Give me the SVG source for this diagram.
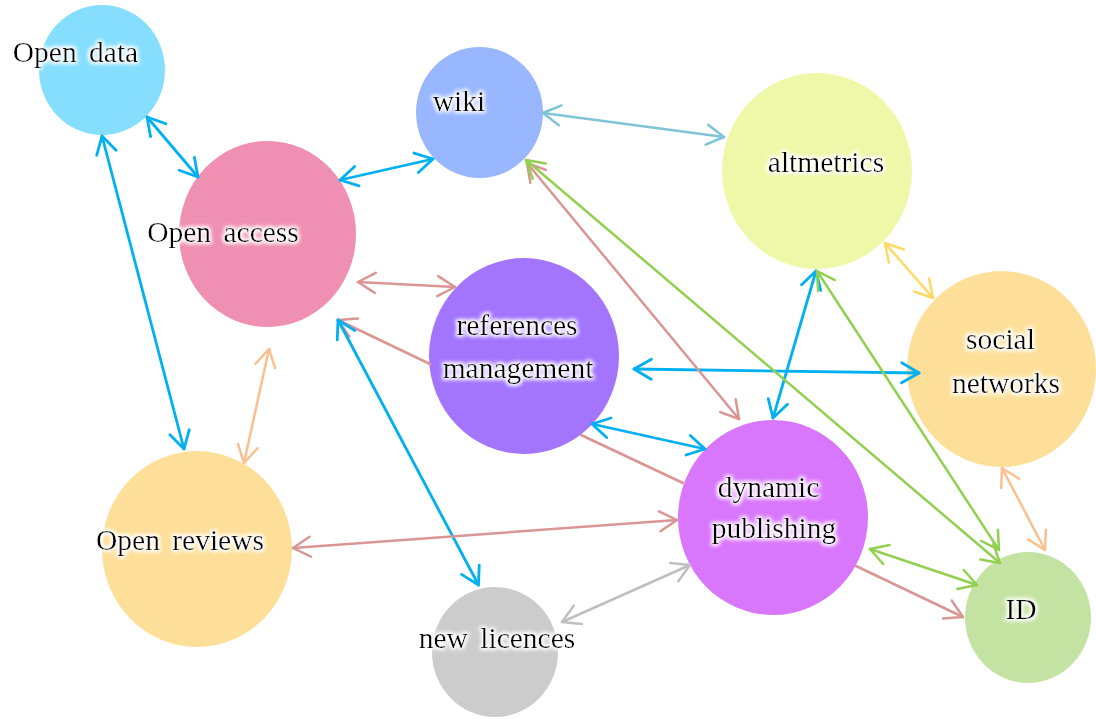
<svg xmlns="http://www.w3.org/2000/svg" width="1096" height="719" viewBox="0 0 1096 719">
<style>
.lbl{font-family:"Liberation Serif","DejaVu Serif",serif;font-size:29.5px;fill:#000;text-anchor:middle;word-spacing:5px;filter:url(#glow)}
.c{fill:none;stroke-width:2.5;stroke-linecap:round}
.blue{stroke:#00b0f0;stroke-width:2.8}
.green{stroke:#92d050}
.rose{stroke:#d99694}
.peach{stroke:#fac090}
.yellow{stroke:#ffd966}
.teal{stroke:#7fc4d6}
.gray{stroke:#bfbfbf}
</style>
<defs>
<filter id="glow" x="-20%" y="-50%" width="140%" height="200%">
<feMorphology in="SourceAlpha" operator="dilate" radius="1" result="d"/>
<feGaussianBlur in="d" stdDeviation="2.2" result="b"/>
<feFlood flood-color="#ffffff"/>
<feComposite in2="b" operator="in" result="w"/>
<feMerge><feMergeNode in="w"/><feMergeNode in="w"/><feMergeNode in="SourceGraphic"/></feMerge>
</filter>
<marker id="mb" viewBox="-20 -12 24 24" refX="0" refY="0" markerWidth="24" markerHeight="24" markerUnits="userSpaceOnUse" orient="auto-start-reverse"><path d="M-17.3,-10 L0,0 L-17.3,10" fill="none" stroke="#00b0f0" stroke-width="2.8" stroke-linecap="round" stroke-linejoin="round"/></marker>
<marker id="mg" viewBox="-20 -12 24 24" refX="0" refY="0" markerWidth="24" markerHeight="24" markerUnits="userSpaceOnUse" orient="auto-start-reverse"><path d="M-17.3,-10 L0,0 L-17.3,10" fill="none" stroke="#92d050" stroke-width="2.5" stroke-linecap="round" stroke-linejoin="round"/></marker>
<marker id="mr" viewBox="-20 -12 24 24" refX="0" refY="0" markerWidth="24" markerHeight="24" markerUnits="userSpaceOnUse" orient="auto-start-reverse"><path d="M-17.3,-10 L0,0 L-17.3,10" fill="none" stroke="#d99694" stroke-width="2.5" stroke-linecap="round" stroke-linejoin="round"/></marker>
<marker id="mp" viewBox="-20 -12 24 24" refX="0" refY="0" markerWidth="24" markerHeight="24" markerUnits="userSpaceOnUse" orient="auto-start-reverse"><path d="M-17.3,-10 L0,0 L-17.3,10" fill="none" stroke="#fac090" stroke-width="2.5" stroke-linecap="round" stroke-linejoin="round"/></marker>
<marker id="my" viewBox="-20 -12 24 24" refX="0" refY="0" markerWidth="24" markerHeight="24" markerUnits="userSpaceOnUse" orient="auto-start-reverse"><path d="M-17.3,-10 L0,0 L-17.3,10" fill="none" stroke="#ffd966" stroke-width="2.5" stroke-linecap="round" stroke-linejoin="round"/></marker>
<marker id="mt" viewBox="-20 -12 24 24" refX="0" refY="0" markerWidth="24" markerHeight="24" markerUnits="userSpaceOnUse" orient="auto-start-reverse"><path d="M-17.3,-10 L0,0 L-17.3,10" fill="none" stroke="#7fc4d6" stroke-width="2.5" stroke-linecap="round" stroke-linejoin="round"/></marker>
<marker id="mgr" viewBox="-20 -12 24 24" refX="0" refY="0" markerWidth="24" markerHeight="24" markerUnits="userSpaceOnUse" orient="auto-start-reverse"><path d="M-17.3,-10 L0,0 L-17.3,10" fill="none" stroke="#bfbfbf" stroke-width="2.5" stroke-linecap="round" stroke-linejoin="round"/></marker>
</defs>
<rect width="1096" height="719" fill="#ffffff"/>
<g id="node-open-data"><ellipse cx="102" cy="70" rx="63" ry="65" fill="#86defe"/><text class="lbl" x="75.5" y="62">Open data</text></g>
<g id="node-open-access"><ellipse cx="267.5" cy="234" rx="88.5" ry="93" fill="#ef8fb2"/><text class="lbl" x="223" y="242">Open access</text></g>
<g id="node-wiki"><ellipse cx="479.5" cy="112.5" rx="63.5" ry="65.5" fill="#99b7fe"/><text class="lbl" x="459" y="111">wiki</text></g>
<g id="node-altmetrics"><ellipse cx="817" cy="171" rx="95" ry="98" fill="#eff8a8"/><text class="lbl" x="826" y="172">altmetrics</text></g>
<g id="node-social-networks"><ellipse cx="1001.5" cy="369" rx="94.5" ry="98" fill="#fddf99"/><text class="lbl" x="1000.5" y="349">social</text><text class="lbl" x="1006" y="393">networks</text></g>
<g id="node-references-management"><ellipse cx="524" cy="356" rx="95" ry="98" fill="#a275fc"/><text class="lbl" x="517" y="335">references</text><text class="lbl" x="518" y="378">management</text></g>
<g id="node-open-reviews"><ellipse cx="197" cy="549" rx="95" ry="98" fill="#fddf99"/><text class="lbl" x="180" y="550">Open reviews</text></g>
<g id="node-new-licences"><ellipse cx="495" cy="652" rx="63" ry="65" fill="#cccccc"/><text class="lbl" x="497" y="648">new licences</text></g>
<g id="node-dynamic-publishing"><ellipse cx="773" cy="517.5" rx="95" ry="97.5" fill="#d877fb"/><text class="lbl" x="768.5" y="497">dynamic</text><text class="lbl" x="774" y="538">publishing</text></g>
<g id="node-id"><ellipse cx="1028" cy="617.5" rx="63" ry="65.5" fill="#c4e3a3"/><text class="lbl" x="1021" y="619">ID</text></g>
<g id="connectors">
<line class="c blue" x1="147" y1="117" x2="198" y2="177" marker-start="url(#mb)" marker-end="url(#mb)"/>
<line class="c blue" x1="102" y1="136" x2="184" y2="449" marker-start="url(#mb)" marker-end="url(#mb)"/>
<line class="c blue" x1="340" y1="180" x2="433" y2="159" marker-start="url(#mb)" marker-end="url(#mb)"/>
<line class="c teal" x1="543" y1="113" x2="724" y2="137" marker-start="url(#mt)" marker-end="url(#mt)"/>
<line class="c rose" x1="358" y1="282" x2="455" y2="287" marker-start="url(#mr)" marker-end="url(#mr)"/>
<line class="c rose" x1="430" y1="364" x2="338" y2="320" marker-end="url(#mr)"/>
<line class="c rose" x1="581" y1="435" x2="683" y2="483"/>
<line class="c blue" x1="338" y1="320" x2="478.5" y2="585" marker-start="url(#mb)" marker-end="url(#mb)"/>
<line class="c peach" x1="269" y1="349" x2="244" y2="463" marker-start="url(#mp)" marker-end="url(#mp)"/>
<line class="c rose" x1="293" y1="548" x2="677" y2="520" marker-start="url(#mr)" marker-end="url(#mr)"/>
<line class="c gray" x1="562" y1="622" x2="690" y2="565" marker-start="url(#mgr)" marker-end="url(#mgr)"/>
<line class="c blue" x1="592" y1="424" x2="705" y2="449" marker-start="url(#mb)" marker-end="url(#mb)"/>
<line class="c blue" x1="634" y1="369" x2="919" y2="373" marker-start="url(#mb)" marker-end="url(#mb)"/>
<line class="c blue" x1="816" y1="271" x2="773" y2="418" marker-start="url(#mb)" marker-end="url(#mb)"/>
<line class="c yellow" x1="885" y1="243" x2="933" y2="298" marker-start="url(#my)" marker-end="url(#my)"/>
<line class="c peach" x1="1002" y1="468" x2="1045" y2="550" marker-start="url(#mp)" marker-end="url(#mp)"/>
<line class="c rose" x1="527" y1="163" x2="739" y2="419" marker-start="url(#mr)" marker-end="url(#mr)"/>
<line class="c green" x1="526" y1="160" x2="1000" y2="563" marker-start="url(#mg)" marker-end="url(#mg)"/>
<line class="c green" x1="817" y1="271" x2="999" y2="550" marker-start="url(#mg)" marker-end="url(#mg)"/>
<line class="c green" x1="870" y1="549" x2="977" y2="585" marker-start="url(#mg)" marker-end="url(#mg)"/>
<line class="c rose" x1="856" y1="566" x2="963" y2="617" marker-end="url(#mr)"/>
</g>
</svg>
